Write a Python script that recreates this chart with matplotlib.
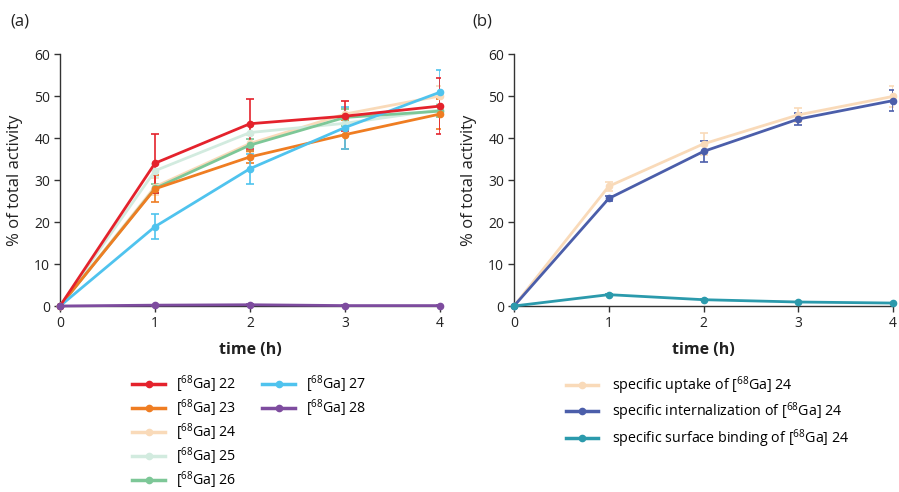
import matplotlib
matplotlib.use("Agg")
import matplotlib.pyplot as plt
from matplotlib.lines import Line2D

plt.rcParams['font.family'] = ['Open Sans', 'DejaVu Sans']
plt.rcParams['mathtext.default'] = 'regular'

time_h = [0, 1, 2, 3, 4]

# panel (a)
labels_a = ['22', '23', '24', '25', '26', '27', '28']
vals_a = {
    '22': [0, 34.0, 43.4, 45.2, 47.6],
    '23': [0, 27.9, 35.5, 40.8, 45.7],
    '24': [0, 28.4, 38.7, 45.7, 50.0],
    '25': [0, 32.2, 41.3, 43.5, 46.7],
    '26': [0, 28.0, 38.3, 44.9, 46.4],
    '27': [0, 18.9, 32.7, 42.5, 50.9],
    '28': [0, 0.2, 0.3, 0.1, 0.1],
}
err_a = {
    '22': [0, 7.0, 6.0, 3.5, 6.6],
    '23': [0, 3.2, 1.5, 3.5, 3.5],
    '24': [0, 2.0, 2.0, 1.5, 2.5],
    '25': [0, 1.5, 1.5, 1.5, 1.5],
    '26': [0, 1.0, 1.5, 2.0, 1.5],
    '27': [0, 3.0, 3.6, 5.0, 5.4],
    '28': [0, 0.1, 0.1, 0.1, 0.1],
}
colors_a = {
    '22': '#e4222c', '23': '#ef7d22', '24': '#f9dab9', '25': '#d2ebdf',
    '26': '#7dc797', '27': '#4fc3ee', '28': '#7e4c9f',
}
draw_order = ['24', '25', '26', '23', '27', '22', '28']

# panel (b)
labels_b = ['specific uptake of [$^{68}$Ga] 24',
            'specific internalization of [$^{68}$Ga] 24',
            'specific surface binding of [$^{68}$Ga] 24']
vals_b = [
    [0, 28.5, 38.6, 45.5, 49.9],
    [0, 25.6, 36.8, 44.5, 48.9],
    [0, 2.7, 1.5, 0.95, 0.7],
]
err_b = [
    [0, 1.0, 2.7, 1.6, 2.6],
    [0, 0.7, 2.6, 1.4, 2.5],
    [0, 0.1, 0.1, 0.1, 0.1],
]
colors_b = ['#f9dab9', '#4b5eaa', '#2b9aac']

W, H = 899, 492
fig = plt.figure(figsize=(W / 100, H / 100), dpi=100)
axa = fig.add_axes([60 / W, 1 - 306 / H, 380 / W, 252 / H])
axb = fig.add_axes([514 / W, 1 - 306 / H, 379 / W, 252 / H])

def style(ax):
    ax.set_xlim(0, 4)
    ax.set_ylim(0, 60)
    ax.set_xticks([0, 1, 2, 3, 4])
    ax.set_yticks(range(0, 61, 10))
    for s in ['top', 'right']:
        ax.spines[s].set_visible(False)
    for s in ['left', 'bottom']:
        ax.spines[s].set_color('#333333')
        ax.spines[s].set_linewidth(1.0)
    ax.tick_params(labelsize=10, length=4, width=1, color='#333333', labelcolor='#222222', pad=3)
    ax.set_xlabel('time (h)', fontsize=11.5, fontweight='bold', labelpad=8, color='#222222')
    ax.set_ylabel('% of total activity', fontsize=12, labelpad=8, color='#222222')

style(axa)
style(axb)

for k in draw_order:
    c = colors_a[k]
    eb = axa.errorbar(time_h, vals_a[k], yerr=err_a[k], color=c, lw=2, marker='o',
                      ms=4.5, capsize=3, elinewidth=1.2, capthick=1.2, zorder=3)
    eb.lines[0].set_clip_on(False)

handles = {k: Line2D([], [], color=colors_a[k], lw=2.5, marker='o', ms=4.5) for k in labels_a}
blank = Line2D([], [], alpha=0)
hl = [handles[k] for k in labels_a] + [blank] * 3
ll = ['[$^{68}$Ga] ' + k for k in labels_a] + [''] * 3
axa.legend(hl, ll, loc='upper left', bbox_to_anchor=(128 / W, 1 - 369 / H),
           bbox_transform=fig.transFigure, ncol=2, frameon=False, fontsize=10.2,
           handlelength=2.3, handletextpad=0.8, columnspacing=1.8, labelspacing=0.18,
           borderaxespad=0, borderpad=0.3)

hb = []
for v, e, c in zip(vals_b, err_b, colors_b):
    eb = axb.errorbar(time_h, v, yerr=e, color=c, lw=2, marker='o', ms=4.5,
                      capsize=3, elinewidth=1.2, capthick=1.2, zorder=3)
    eb.lines[0].set_clip_on(False)
    hb.append(Line2D([], [], color=c, lw=2.5, marker='o', ms=4.5))
axb.legend(hb, labels_b, loc='upper left', bbox_to_anchor=(562 / W, 1 - 370 / H),
           bbox_transform=fig.transFigure, frameon=False, fontsize=10.3,
           handlelength=2.2, handletextpad=1.0, labelspacing=0.28,
           borderaxespad=0, borderpad=0.3)

fig.text(10 / W, 1 - 22 / H, '(a)', fontsize=12, va='center', ha='left', color='#222222')
fig.text(472 / W, 1 - 22 / H, '(b)', fontsize=12, va='center', ha='left', color='#222222')

fig.savefig('out.png', dpi=100)
